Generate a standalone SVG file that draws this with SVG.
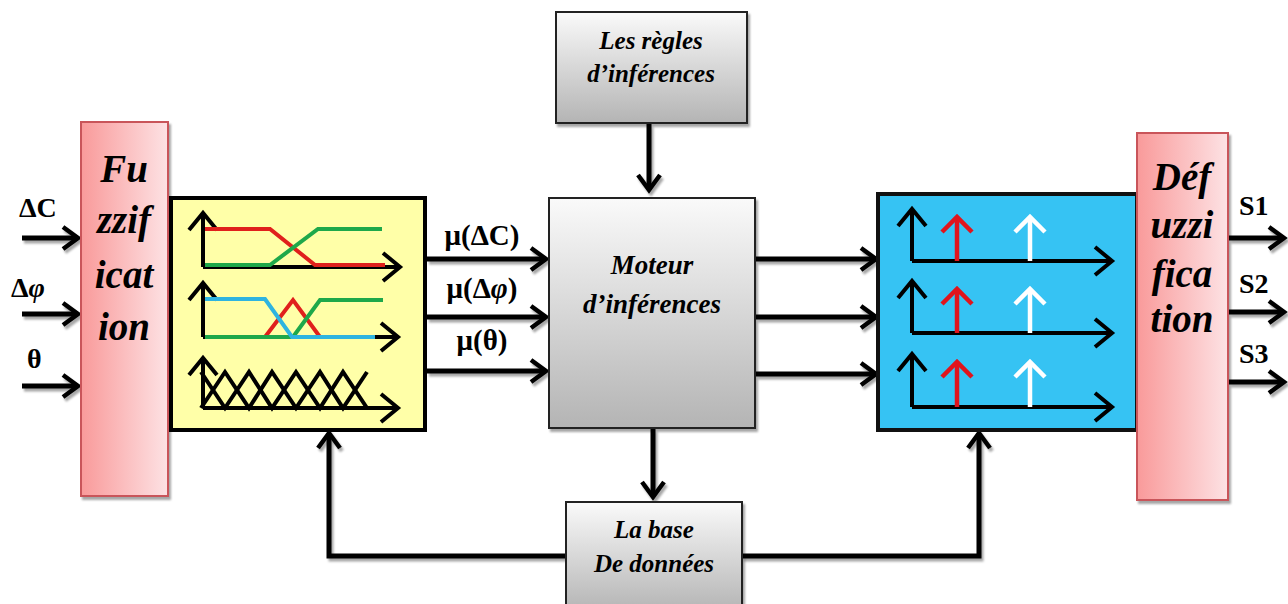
<svg xmlns="http://www.w3.org/2000/svg" width="1288" height="604" viewBox="0 0 1288 604">
<style>
.lbl{font-family:"Liberation Serif","Times New Roman","DejaVu Serif",serif;font-weight:bold;font-style:italic;fill:#000;text-anchor:middle}
.big{font-size:39px}
.sym{font-family:"Liberation Serif","Times New Roman","DejaVu Serif",serif;font-weight:bold;fill:#000;font-size:28px}
.mu{font-size:29px;text-anchor:middle}
.conn{fill:none;stroke:#000;stroke-width:5;marker-end:url(#ah)}
.ax{fill:none;stroke:#000;stroke-width:4;marker-end:url(#ahs)}
.box{stroke:#222;stroke-width:2}
</style>
<defs>
<filter id="sh" x="-20%" y="-20%" width="140%" height="140%">
<feDropShadow dx="2" dy="3" stdDeviation="1" flood-color="#000" flood-opacity="0.35"/>
</filter>
<linearGradient id="pink" x1="0" y1="0" x2="1" y2="0">
<stop offset="0" stop-color="#f99a9a"/><stop offset="1" stop-color="#fde2e4"/>
</linearGradient>
<linearGradient id="gray" x1="0" y1="0" x2="0" y2="1">
<stop offset="0" stop-color="#fafafa"/><stop offset="1" stop-color="#b4b4b4"/>
</linearGradient>
<marker id="ah" markerUnits="userSpaceOnUse" markerWidth="40" markerHeight="40" viewBox="-20 -20 40 40" refX="0" refY="0" orient="auto" overflow="visible">
<path d="M-15,-11 L0,0 L-15,11" fill="none" stroke="#000" stroke-width="4.5"/>
</marker>
<marker id="ahs" markerUnits="userSpaceOnUse" markerWidth="40" markerHeight="40" viewBox="-20 -20 40 40" refX="0" refY="0" orient="auto" overflow="visible">
<path d="M-17,-14 L0,0 L-17,14" fill="none" stroke="#000" stroke-width="4"/>
</marker>
<marker id="ahr" markerUnits="userSpaceOnUse" markerWidth="40" markerHeight="40" viewBox="-20 -20 40 40" refX="0" refY="0" orient="auto" overflow="visible">
<path d="M-15,-15 L0,0 L-15,15" fill="none" stroke="#e0141c" stroke-width="4.5"/>
</marker>
<marker id="ahw" markerUnits="userSpaceOnUse" markerWidth="40" markerHeight="40" viewBox="-20 -20 40 40" refX="0" refY="0" orient="auto" overflow="visible">
<path d="M-15,-15 L0,0 L-15,15" fill="none" stroke="#ffffff" stroke-width="4.5"/>
</marker>
</defs>
<rect width="1288" height="604" fill="#fff"/>

<g id="connectors" filter="url(#sh)">
<path class="conn" d="M22,238 H78"/>
<path class="conn" d="M22,314 H78"/>
<path class="conn" d="M22,386 H78"/>
<path class="conn" d="M427,259 H546"/>
<path class="conn" d="M427,317 H546"/>
<path class="conn" d="M427,371 H546"/>
<path class="conn" d="M649,124 V190"/>
<path class="conn" d="M756,259 H876"/>
<path class="conn" d="M756,317 H876"/>
<path class="conn" d="M756,374 H876"/>
<path class="conn" d="M653,429 V497"/>
<path class="conn" d="M566,556 H329 V433"/>
<path class="conn" d="M742,556 H979 V433"/>
<path class="conn" d="M1229,238 H1284"/>
<path class="conn" d="M1229,312 H1284"/>
<path class="conn" d="M1229,382 H1284"/>
</g>

<g id="io-labels">
<text class="sym" x="19" y="217">ΔC</text>
<text class="sym" x="11" y="297">Δ<tspan font-style="italic">φ</tspan></text>
<text class="sym" x="27" y="368">θ</text>
<text class="sym mu" x="482" y="245">μ(ΔC)</text>
<text class="sym mu" x="482" y="298">μ(Δ<tspan font-style="italic">φ</tspan>)</text>
<text class="sym mu" x="482" y="350">μ(θ)</text>
<text class="sym" x="1239" y="215">S1</text>
<text class="sym" x="1239" y="293">S2</text>
<text class="sym" x="1239" y="363">S3</text>
</g>

<g id="fuzzification">
<rect x="81" y="122" width="87" height="374" fill="url(#pink)" stroke="#c9545a" stroke-width="2" filter="url(#sh)"/>
<text class="lbl big" x="124" y="182">Fu</text>
<text class="lbl big" x="124" y="233">zzif</text>
<text class="lbl big" x="124" y="288">icat</text>
<text class="lbl big" x="124" y="340">ion</text>
</g>

<g id="membership">
<rect x="171" y="198" width="254" height="232" fill="#ffffa8" stroke="#000" stroke-width="4"/>
<path class="ax" d="M203,267 V213"/>
<path class="ax" d="M203,267 H400"/>
<polyline points="205,229 270,229 315,265 385,265" fill="none" stroke="#e0201c" stroke-width="4"/>
<polyline points="205,265 270,265 318,229 382,229" fill="none" stroke="#1ea84a" stroke-width="4"/>
<path class="ax" d="M203,337 V283"/>
<path class="ax" d="M203,337 H398"/>
<polyline points="265,337 293,300 320,337" fill="none" stroke="#e0201c" stroke-width="4"/>
<polyline points="205,337 293,337 320,300 383,300" fill="none" stroke="#1ea84a" stroke-width="4"/>
<polyline points="205,299 265,299 292,337 375,337" fill="none" stroke="#2eb4e0" stroke-width="4"/>
<path class="ax" d="M203,408 V358"/>
<path class="ax" d="M203,408 H398"/>
<polyline points="201,372 225,408 249,372 272,408 296,372 320,408 343,372 367,408" fill="none" stroke="#000" stroke-width="4"/>
<polyline points="201,408 225,372 249,408 272,372 296,408 320,372 343,408 367,372" fill="none" stroke="#000" stroke-width="4"/>
</g>

<g id="regles">
<rect class="box" x="556" y="12" width="191" height="111" fill="url(#gray)" filter="url(#sh)"/>
<text class="lbl" x="651" y="49" font-size="25">Les règles</text>
<text class="lbl" x="651" y="82" font-size="25">d’inférences</text>
</g>

<g id="moteur">
<rect class="box" x="549" y="198" width="206" height="230" fill="url(#gray)" filter="url(#sh)"/>
<text class="lbl" x="652" y="274" font-size="27">Moteur</text>
<text class="lbl" x="652" y="313" font-size="27">d’inférences</text>
</g>

<g id="base">
<rect class="box" x="566" y="502" width="176" height="110" fill="url(#gray)" filter="url(#sh)"/>
<text class="lbl" x="654" y="538" font-size="25">La base</text>
<text class="lbl" x="654" y="572" font-size="25">De données</text>
</g>

<g id="agregation">
<rect x="878" y="194" width="259" height="236" fill="#36c3f3" stroke="#111" stroke-width="4"/>
<g id="row1">
<path class="ax" d="M912,261 V209"/>
<path class="ax" d="M912,261 H1112"/>
<path d="M957,261 V217" stroke="#e0141c" stroke-width="4.5" fill="none" marker-end="url(#ahr)"/>
<path d="M1030,261 V217" stroke="#fff" stroke-width="4.5" fill="none" marker-end="url(#ahw)"/>
</g>
<g id="row2">
<path class="ax" d="M912,333 V281"/>
<path class="ax" d="M912,333 H1112"/>
<path d="M957,333 V289" stroke="#e0141c" stroke-width="4.5" fill="none" marker-end="url(#ahr)"/>
<path d="M1030,333 V289" stroke="#fff" stroke-width="4.5" fill="none" marker-end="url(#ahw)"/>
</g>
<g id="row3">
<path class="ax" d="M912,407 V354"/>
<path class="ax" d="M912,407 H1112"/>
<path d="M957,407 V362" stroke="#e0141c" stroke-width="4.5" fill="none" marker-end="url(#ahr)"/>
<path d="M1030,407 V362" stroke="#fff" stroke-width="4.5" fill="none" marker-end="url(#ahw)"/>
</g>
</g>

<g id="defuzzification">
<rect x="1137" y="133" width="91" height="367" fill="url(#pink)" stroke="#c9545a" stroke-width="2" filter="url(#sh)"/>
<text class="lbl big" x="1182" y="190">Déf</text>
<text class="lbl big" x="1182" y="238">uzzi</text>
<text class="lbl big" x="1182" y="287">fica</text>
<text class="lbl big" x="1182" y="332">tion</text>
</g>
</svg>
